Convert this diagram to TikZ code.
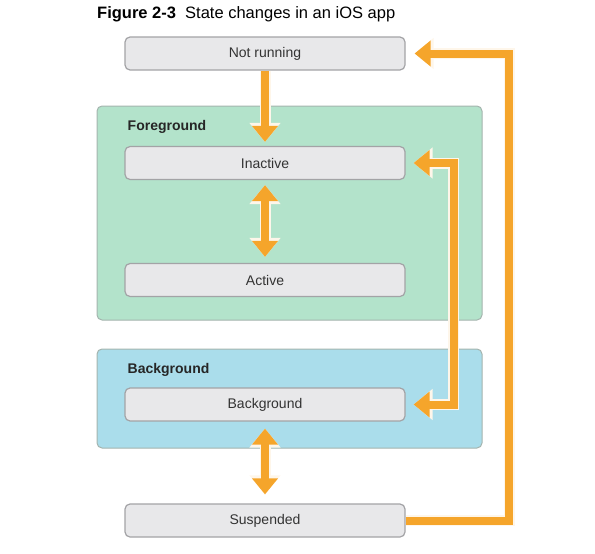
\documentclass[tikz,border=0pt]{standalone}
\usepackage{fontspec}
\setmainfont{Liberation Sans}
\usetikzlibrary{positioning, arrows.meta}

\definecolor{flowOrange}{HTML}{F5A52B}
\definecolor{boxFill}{HTML}{E8E8EA}
\definecolor{boxEdge}{HTML}{A3A3A6}
\definecolor{fgFill}{HTML}{B3E3CB}
\definecolor{bgFill}{HTML}{AADDEB}
\definecolor{regionEdge}{HTML}{A4B4AE}
\definecolor{labelText}{HTML}{333333}

\begin{document}
\begin{tikzpicture}[x=1pt, y=-1pt, font=\fontsize{14}{16}\selectfont,
    state/.style={rectangle, draw=boxEdge, line width=1.2pt, fill=boxFill, rounded corners=5pt, minimum width=280pt, minimum height=33pt, inner sep=0pt, text=labelText},
    region/.style={rectangle, draw=regionEdge, line width=1pt, rounded corners=5pt, minimum width=385pt, inner sep=0pt},
    regionlabel/.style={font=\fontsize{14}{16}\selectfont\bfseries, anchor=north west, inner sep=0pt, text=black!85},
    halo/.style={preaction={draw=white!90!flowOrange, line width=11pt, #1}},
    flow/.style={draw=flowOrange, line width=8pt, -{Triangle[width=25pt,length=16pt]},
        halo={-{Triangle[width=30pt,length=19pt]}}},
    flowboth/.style={draw=flowOrange, line width=8pt, {Triangle[width=25pt,length=16pt]}-{Triangle[width=25pt,length=16pt]},
        halo={{Triangle[width=30pt,length=19pt]}-{Triangle[width=30pt,length=19pt]}}}]

    \useasboundingbox (0,0) rectangle (595,554);

    % Title
    \node[anchor=west, inner sep=0pt, font=\fontsize{16.5}{19}\selectfont] (title) at (97,14) {\textbf{Figure 2-3}\ \ State changes in an iOS app};

    % Regions behind the states
    \node[region, fill=fgFill, minimum height=214pt] (fg_region) at (289.5,213) {};
    \node[region, fill=bgFill, minimum height=99pt] (bg_region) at (289.5,398.5) {};
    \node[regionlabel, below right=15pt and 31pt of fg_region.north west] (fg_label) {Foreground};
    \node[regionlabel, below right=14.5pt and 31pt of bg_region.north west] (bg_label) {Background};

    % States
    \node[state] (not_running) at (265,53.5) {Not running};
    \node[state] (inactive) at (265,163) {Inactive};
    \node[state] (active) at (265,280) {Active};
    \node[state] (background) at (265,404.5) {Background};
    \node[state] (suspended) at (265,520.5) {Suspended};

    % Corners of the two loops on the right
    \coordinate (inner_top) at (453.5,163);
    \coordinate (outer_top) at (509,53.5);

    % Transitions
    \draw[flow, shorten >=4pt] (not_running) -- (inactive);
    \draw[flowboth, shorten >=6pt, shorten <=5pt] (inactive) -- (active);
    \draw[flowboth, shorten >=9pt, shorten <=7pt] (background) -- (suspended);
    \draw[flowboth, shorten >=8pt, shorten <=8pt] (inactive.east) -- (inner_top) |- (background.east);
    \draw[flow, shorten >=9pt] (suspended.east) -| (outer_top) -- (not_running.east);

\end{tikzpicture}
\end{document}
